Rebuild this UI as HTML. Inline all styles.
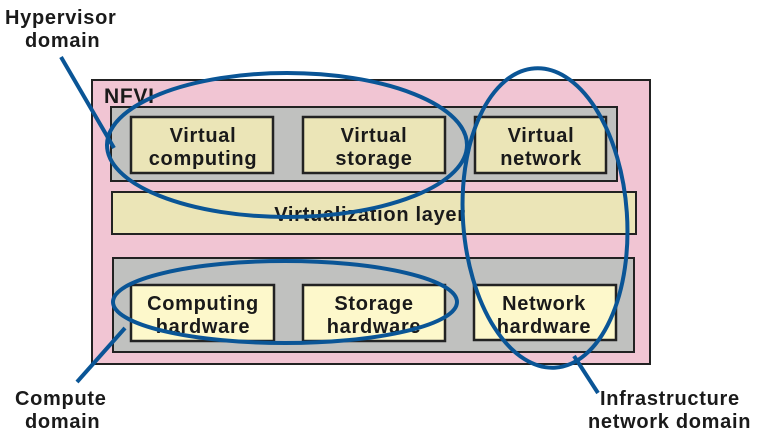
<!DOCTYPE html>
<html><head><style>
html,body{margin:0;padding:0;background:#fff;}
svg text{font-family:"Liberation Sans",Arial,sans-serif;font-weight:bold;fill:#1a1a1a;letter-spacing:0.7px;}
</style></head><body>
<svg width="774" height="443" viewBox="0 0 774 443" xmlns="http://www.w3.org/2000/svg">
<rect x="92" y="80" width="558" height="284" fill="#f1c5d3" stroke="#222" stroke-width="2"/>
<text x="104" y="103" font-size="21">NFVI</text>
<rect x="111" y="107" width="506" height="74" fill="#c0c1bf" stroke="#222" stroke-width="2"/>
<rect x="131" y="117" width="142" height="56" fill="#ebe5b7" stroke="#222" stroke-width="2.5"/>
<rect x="303" y="117" width="142" height="56" fill="#ebe5b7" stroke="#222" stroke-width="2.5"/>
<rect x="475" y="117" width="131" height="56" fill="#ebe5b7" stroke="#222" stroke-width="2.5"/>
<rect x="112" y="192" width="524" height="42" fill="#ebe5b7" stroke="#222" stroke-width="2"/>
<rect x="113" y="258" width="521" height="94" fill="#c0c1bf" stroke="#222" stroke-width="2"/>
<rect x="131" y="285" width="143" height="56" fill="#fdf8cb" stroke="#222" stroke-width="2.5"/>
<rect x="303" y="285" width="142" height="56" fill="#fdf8cb" stroke="#222" stroke-width="2.5"/>
<rect x="474" y="285" width="142" height="55" fill="#fdf8cb" stroke="#222" stroke-width="2.5"/>
<g font-size="20" text-anchor="middle">
<text x="203" y="142">Virtual</text><text x="203" y="165">computing</text>
<text x="374" y="142">Virtual</text><text x="374" y="165">storage</text>
<text x="541" y="142">Virtual</text><text x="541" y="165">network</text>
<text x="370" y="221">Virtualization layer</text>
<text x="203" y="310">Computing</text><text x="203" y="333">hardware</text>
<text x="374" y="310">Storage</text><text x="374" y="333">hardware</text>
<text x="544" y="310">Network</text><text x="544" y="333">hardware</text>
</g>
<g fill="none" stroke="#0a5596" stroke-width="4">
<ellipse cx="287" cy="145" rx="180" ry="72"/>
<ellipse cx="285" cy="302" rx="172" ry="41"/>
<ellipse cx="545" cy="218" rx="82" ry="150" transform="rotate(-4 545 218)"/>
<line x1="61" y1="57" x2="114" y2="148"/>
<line x1="77" y1="382" x2="125" y2="328"/>
<line x1="574" y1="356" x2="598" y2="393"/>
</g>
<g font-size="20">
<text x="5" y="24">Hypervisor</text><text x="25" y="47">domain</text>
<text x="15" y="405">Compute</text><text x="25" y="428">domain</text>
<text x="600" y="405">Infrastructure</text><text x="588" y="428">network domain</text>
</g>
</svg>
</body></html>
